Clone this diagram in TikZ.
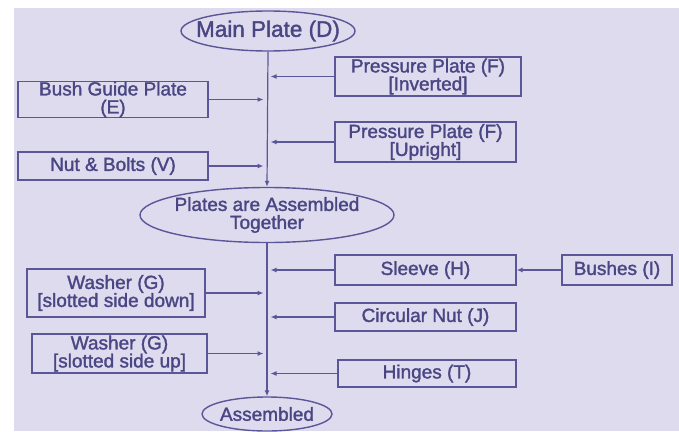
\documentclass[tikz,border=0pt]{standalone}
\usepackage{fontspec}
\setmainfont{Liberation Sans}
\newfontfamily\diagfont{Liberation Sans}[FakeBold=1.6]
\usetikzlibrary{shapes.geometric,arrows.meta}
\definecolor{bg}{HTML}{DEDBEE}
\definecolor{ln}{HTML}{5A5698}
\definecolor{tx}{HTML}{4A4684}
\tikzset{
  box/.style={draw=ln, line width=1.4pt, rectangle, inner sep=0pt, align=center,
    text=tx, font=\diagfont\fontsize{19}{18}\selectfont},
  ell/.style={draw=ln, line width=1.4pt, ellipse, inner sep=0pt},
  elltext/.style={inner sep=0pt, align=center, text=tx, font=\diagfont\fontsize{19}{18}\selectfont},
  arr/.style={draw=ln, line width=1.2pt, -{Latex[length=6pt,width=5pt]}}
}
\begin{document}
\begin{tikzpicture}[x=1pt,y=-1pt]
\useasboundingbox (0,0) rectangle (679,431);
\fill[white] (0,0) rectangle (679,431);
\fill[bg] (14,8) rectangle (679,431);

% ellipses
\node[ell, minimum width=174pt, minimum height=40pt] (main) at (268,31) {};
\node[elltext, font=\diagfont\fontsize{22.5}{21}\selectfont] (mainlbl) at (main) {Main Plate (D)};
\node[ell, minimum width=254pt, minimum height=55pt] (plates) at (267,215) {};
\node[elltext] (plateslbl) at (plates) {Plates are Assembled\\Together};
\node[ell, minimum width=130pt, minimum height=34pt] (asm) at (267,414) {};
\node[elltext] (asmlbl) at (asm) {Assembled};

% boxes
\node[box, minimum width=186pt, minimum height=39pt] (pin) at (428,76.5) {Pressure Plate (F)\\{[Inverted]}};
\node[box, minimum width=190pt, minimum height=35pt] (bgp) at (113,99.5) {Bush Guide Plate\\(E)};
\node[box, minimum width=181pt, minimum height=40pt] (pup) at (425.5,142) {Pressure Plate (F)\\{[Upright]}};
\node[box, minimum width=190pt, minimum height=28pt] (nut) at (113,166) {Nut \& Bolts (V)};
\node[box, minimum width=178pt, minimum height=48pt] (wd) at (116,293) {Washer (G)\\{[slotted side down]}};
\node[box, minimum width=175pt, minimum height=39pt] (wu) at (119.5,353.5) {Washer (G)\\{[slotted side up]}};
\node[box, minimum width=181pt, minimum height=30pt] (sleeve) at (425.5,270) {Sleeve (H)};
\node[box, minimum width=110pt, minimum height=30pt] (bushes) at (617,270) {Bushes (I)};
\node[box, minimum width=181pt, minimum height=28pt] (cnut) at (425.5,317) {Circular Nut (J)};
\node[box, minimum width=178pt, minimum height=27pt] (hinges) at (427,373.5) {Hinges (T)};

% tip positions near the spine
\coordinate (tipL) at (263.5,0);
\coordinate (tipR) at (270.5,0);

% spine
\draw[arr] (main.south) -- (plates.north);
\draw[arr] (plates.south) -- (asm.north);

% side arrows
\draw[arr] (bgp.east) -- (bgp.east -| tipL);
\draw[arr] (nut.east) -- (nut.east -| tipL);
\draw[arr] (pin.west) -- (pin.west -| tipR);
\draw[arr] (pup.west) -- (pup.west -| tipR);
\draw[arr] (wd.east) -- (wd.east -| tipL);
\draw[arr] (wu.east) -- (wu.east -| tipL);
\draw[arr] (sleeve.west) -- (sleeve.west -| tipR);
\draw[arr] (cnut.west) -- (cnut.west -| tipR);
\draw[arr] (hinges.west) -- (hinges.west -| tipR);
\draw[arr] (bushes.west) -- (sleeve.east);
\end{tikzpicture}
\end{document}
